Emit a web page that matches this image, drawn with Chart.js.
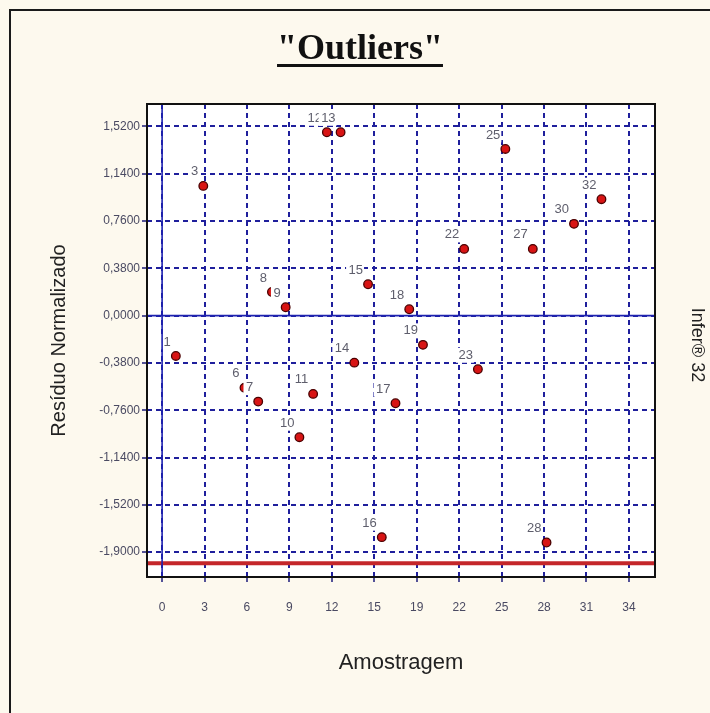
<!DOCTYPE html>
<html><head><meta charset="utf-8">
<script src="https://cdn.jsdelivr.net/npm/chart.js@4/dist/chart.umd.min.js"></script>
<style>html,body{margin:0;padding:0;background:#fdf9ee;overflow:hidden}#wrap{width:710px;height:713px;position:relative}</style>
</head><body><div id="wrap"><canvas id="c" width="710" height="713"></canvas></div>
<script>
const chartTitle = '"Outliers"';
const xTitle = 'Amostragem';
const yTitle = 'Resíduo Normalizado';
const sideText = 'Infer® 32';
const samples = [1, 3, 6, 7, 8, 9, 10, 11, 12, 13, 14, 15, 16, 17, 18, 19, 22, 23, 25, 27, 28, 30, 32];
const residuals = [-0.324, 1.042, -0.58, -0.691, 0.19, 0.067, -0.977, -0.629, 1.473, 1.473, -0.378, 0.252, -1.78, -0.704, 0.051, -0.235, 0.536, -0.431, 1.339, 0.536, -1.823, 0.737, 0.935];
const xTickValues = [0, 3.09, 6.18, 9.27, 12.36, 15.45, 18.55, 21.64, 24.73, 27.82, 30.91, 34];
const xTickLabels = ['0', '3', '6', '9', '12', '15', '19', '22', '25', '28', '31', '34'];
const yTickValues = [-1.9, -1.52, -1.14, -0.76, -0.38, 0, 0.38, 0.76, 1.14, 1.52];
const yTickLabels = ['-1,9000', '-1,5200', '-1,1400', '-0,7600', '-0,3800', '0,0000', '0,3800', '0,7600', '1,1400', '1,5200'];
const limitValue = -1.99;
const xRange = [-1.1, 35.9];
const yRange = [-2.1, 1.7];

const GRID = '#1f1f9c';
const TICKTXT = '#4a4a62';

const decorPlugin = {
  id: 'decor',
  beforeDraw(chart) {
    const ctx = chart.ctx, a = chart.chartArea;
    ctx.save();
    ctx.fillStyle = '#fdf9ee';
    ctx.fillRect(0, 0, chart.width, chart.height);
    ctx.strokeStyle = '#1a1a1a';
    ctx.lineWidth = 2;
    ctx.strokeRect(10, 10, 900, 900);
    ctx.fillStyle = '#ffffff';
    ctx.fillRect(a.left, a.top, a.right - a.left, a.bottom - a.top);
    ctx.restore();
  },
  afterDatasetDraw(chart, args) {
    if (args.index !== 0) return;
    const ctx = chart.ctx;
    const meta = args.meta;
    ctx.save();
    ctx.font = '13px "Liberation Sans", Arial, sans-serif';
    ctx.textAlign = 'right';
    ctx.textBaseline = 'middle';
    meta.data.forEach((el, i) => {
      const txt = String(samples[i]);
      const tx = el.x - 5, ty = el.y - 14;
      const w = ctx.measureText(txt).width;
      ctx.fillStyle = '#ffffff';
      ctx.fillRect(tx - w - 2.5, ty - 7.5, w + 3.5, 15);
      ctx.fillStyle = '#5e5e6c';
      ctx.fillText(txt, tx, ty);
    });
    ctx.restore();
  },
  afterDraw(chart) {
    const ctx = chart.ctx, a = chart.chartArea;
    ctx.save();
    ctx.strokeStyle = '#111';
    ctx.lineWidth = 2;
    ctx.strokeRect(a.left, a.top, a.right - a.left, a.bottom - a.top);
    // title
    ctx.font = 'bold 36px "Liberation Serif", "Times New Roman", serif';
    ctx.fillStyle = '#111';
    ctx.textAlign = 'center';
    ctx.textBaseline = 'alphabetic';
    const cx = 360, by = 59;
    ctx.fillText(chartTitle, cx, by);
    const tw = ctx.measureText(chartTitle).width;
    ctx.fillRect(cx - tw / 2, by + 5, tw, 3);
    // side text
    ctx.translate(697, 345);
    ctx.rotate(Math.PI / 2);
    ctx.font = '18px "Liberation Sans", Arial, sans-serif';
    ctx.fillStyle = '#222';
    ctx.textBaseline = 'middle';
    ctx.fillText(sideText, 0, 0);
    ctx.restore();
  }
};

const pts = samples.map((s, i) => ({ x: s, y: residuals[i] }));

new Chart(document.getElementById('c'), {
  type: 'scatter',
  data: {
    datasets: [
      { label: 'Resíduos', data: pts, order: 0, pointRadius: 4.3, pointHoverRadius: 4.3,
        backgroundColor: '#d81414', borderColor: '#4a0000', borderWidth: 1.3, showLine: false },
      { type: 'line', label: 'limite', data: [{ x: xRange[0], y: limitValue }, { x: xRange[1], y: limitValue }],
        order: 1, borderColor: '#c4262a', borderWidth: 4, pointRadius: 0, fill: false },
      { type: 'line', label: 'zeroH', data: [{ x: xRange[0], y: 0 }, { x: xRange[1], y: 0 }],
        order: -1, borderColor: '#1e22b0', borderWidth: 1.6, pointRadius: 0, fill: false },
      { type: 'line', label: 'zeroV', data: [{ x: 0, y: yRange[0] }, { x: 0, y: yRange[1] }],
        order: -1, borderColor: '#1e22b0', borderWidth: 1.6, pointRadius: 0, fill: false }
    ]
  },
  options: {
    responsive: false, animation: false, devicePixelRatio: 1,
    layout: { padding: { left: 0, top: 104, right: 55, bottom: 0 } },
    plugins: { legend: { display: false }, tooltip: { enabled: false }, title: { display: false } },
    scales: {
      x: {
        type: 'linear', position: 'bottom', min: xRange[0], max: xRange[1],
        afterBuildTicks: s => { s.ticks = xTickValues.map(v => ({ value: v })); },
        afterFit: s => { s.height = 136; },
        ticks: { callback: (v, i) => xTickLabels[i], color: TICKTXT, font: { size: 12, family: '"Liberation Sans", Arial, sans-serif' }, padding: 18, maxRotation: 0, autoSkip: false },
        grid: { color: GRID, lineWidth: 2, drawTicks: true, tickLength: 5, tickColor: '#1a1a7a', tickWidth: 1.5 },
        border: { display: false, dash: [5, 4] },
        title: { display: true, text: xTitle, color: '#222', font: { size: 22, family: '"Liberation Sans", Arial, sans-serif' }, padding: { top: 0, bottom: 37 } }
      },
      y: {
        type: 'linear', position: 'left', min: yRange[0], max: yRange[1],
        afterBuildTicks: s => { s.ticks = yTickValues.map(v => ({ value: v })); },
        afterFit: s => { s.width = 147; },
        ticks: { callback: (v, i) => yTickLabels[i], color: TICKTXT, font: { size: 12, family: '"Liberation Sans", Arial, sans-serif' }, padding: 2, autoSkip: false },
        grid: { color: GRID, lineWidth: 2, drawTicks: true, tickLength: 5, tickColor: '#1a1a7a', tickWidth: 1.5 },
        border: { display: false, dash: [5, 4] },
        title: { display: true, text: yTitle, color: '#222', font: { size: 20, family: '"Liberation Sans", Arial, sans-serif' }, padding: { top: 47, bottom: 0 } }
      }
    }
  },
  plugins: [decorPlugin]
});
</script></body></html>
